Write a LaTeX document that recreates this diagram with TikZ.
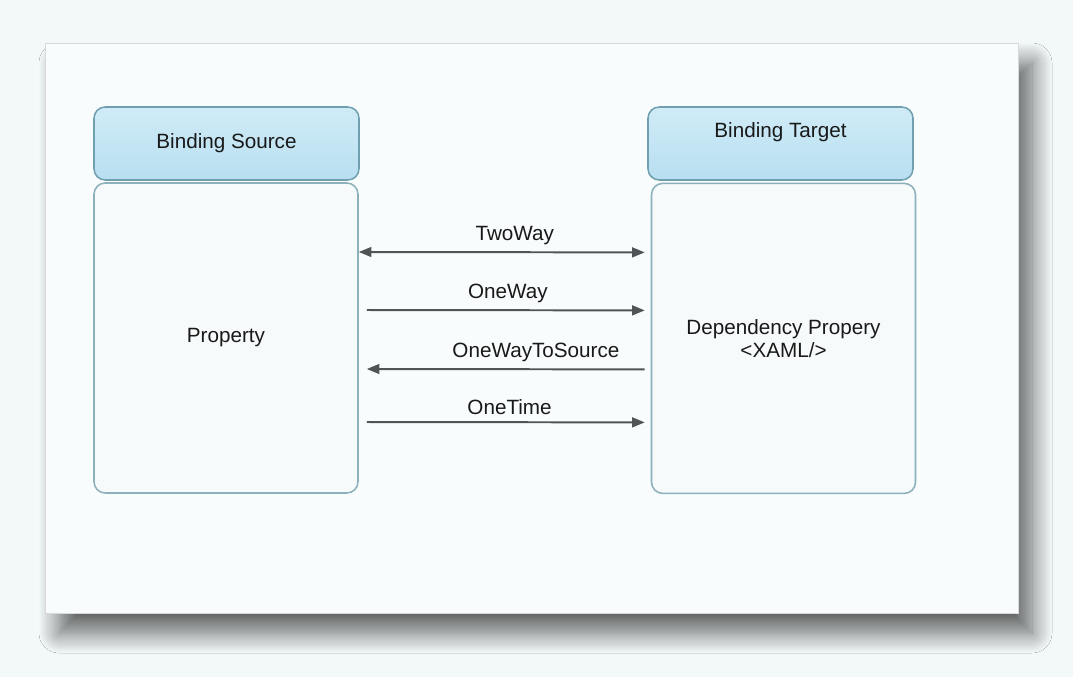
\documentclass[tikz,border=0pt]{standalone}
\usepackage{fontspec}
\setmainfont{Liberation Sans}
\definecolor{pagebg}{RGB}{243,248,248}
\definecolor{panelbg}{RGB}{248,252,252}
\definecolor{headtop}{RGB}{208,235,247}
\definecolor{headbot}{RGB}{184,223,240}
\definecolor{headline}{RGB}{112,160,176}
\definecolor{bodyfill}{RGB}{246,250,250}
\definecolor{bodyline}{RGB}{140,176,188}
\definecolor{arrgray}{RGB}{80,84,86}
\usetikzlibrary{arrows.meta,positioning,shadows.blur}

\begin{document}
\begin{tikzpicture}[
  headbox/.style={draw=headline,line width=1.1pt,rounded corners=8pt,
               top color=headtop,bottom color=headbot,
               minimum width=6.625cm,minimum height=1.825cm,
               font=\fontsize{14.7}{17}\selectfont,text=black!90},
  bodybox/.style={draw=bodyline,line width=1.1pt,rounded corners=8pt,
               fill=bodyfill,minimum width=6.6cm,minimum height=7.75cm,
               font=\fontsize{14.7}{16.5}\selectfont,align=center,text=black!90},
  tip/.style={Triangle[length=9pt,width=7pt]},
  arr/.style={-{Triangle[length=9pt,width=7pt]},line width=1.4pt,arrgray},
  lbl/.style={font=\fontsize{14.7}{17}\selectfont,text=black!90,above=1pt}]

  \fill[pagebg] (0,0) rectangle (26.825,-16.925);
  \node[draw=black!15,fill=panelbg,minimum width=24.325cm,minimum height=14.25cm,
        blur shadow={shadow xshift=0.35cm,shadow yshift=-0.5cm,
                     shadow blur radius=0.5cm,shadow blur steps=20,
                     shadow opacity=60}]
        (panel) at (13.2875,-8.2) {};

  \node[headbox] (srchead) at (5.6625,-3.5875) {Binding Source};
  \node[bodybox] (srcbody) at (5.65,-8.45)   {Property};
  \node[headbox,text height=0.38cm,text depth=0.7cm]
        (tgthead) at (19.5125,-3.5875) {Binding Target};
  \node[bodybox] (tgtbody) at (19.5875,-8.46) {Dependency Propery\\\textless XAML/\textgreater};

  \draw[line width=1.4pt,arrgray,{Triangle[length=9pt,width=7pt]}-{Triangle[length=9pt,width=7pt]},
        shorten >=0.15cm]
    ([yshift=2.15cm]srcbody.east) -- ([yshift=2.15cm]tgtbody.west)
    node[midway,lbl,xshift=0.25cm]{TwoWay};
  \draw[arr,shorten <=0.2cm,shorten >=0.15cm]
    ([yshift=0.7cm]srcbody.east) -- ([yshift=0.7cm]tgtbody.west)
    node[midway,lbl,xshift=0.08cm]{OneWay};
  \draw[arr,shorten <=0.15cm,shorten >=0.2cm]
    ([yshift=-0.775cm]tgtbody.west) -- ([yshift=-0.775cm]srcbody.east)
    node[midway,lbl,xshift=0.78cm]{OneWayToSource};
  \draw[arr,shorten <=0.2cm,shorten >=0.15cm]
    ([yshift=-2.1cm]srcbody.east) -- ([yshift=-2.1cm]tgtbody.west)
    node[midway,lbl,xshift=0.12cm]{OneTime};
\end{tikzpicture}
\end{document}
